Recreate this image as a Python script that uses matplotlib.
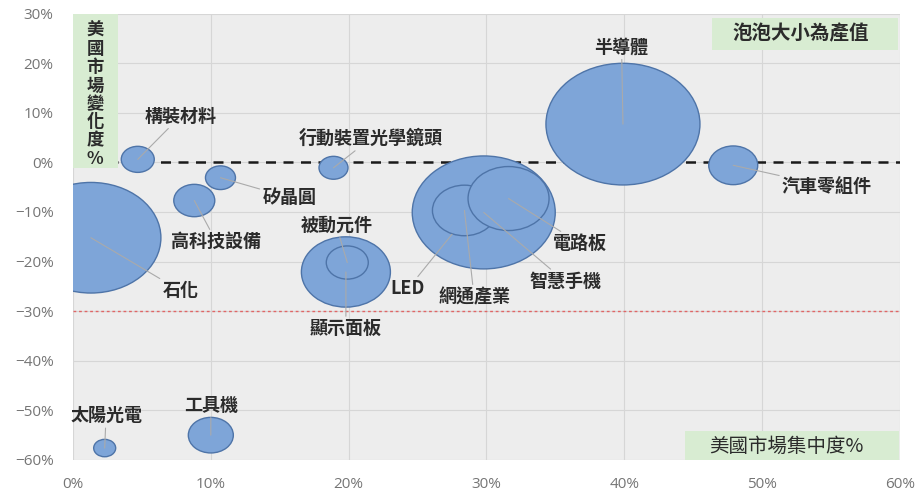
import numpy as np
import matplotlib
matplotlib.use('Agg')
import matplotlib.pyplot as plt
from matplotlib.path import Path
from matplotlib.patches import Rectangle
from matplotlib.transforms import Affine2D
from matplotlib.ticker import PercentFormatter

plt.rcParams['font.family'] = ['Noto Sans CJK TC', 'DejaVu Sans']

# 產業資料 (依繪製順序, 大泡泡先畫)
names = ['LED', '石化', '半導體', '智慧手機', '顯示面板', '網通產業', '電路板',
         '汽車零組件', '工具機', '被動元件', '高科技設備', '構裝材料', '矽晶圓',
         '行動裝置光學鏡頭', '太陽光電']
conc = [27.5, 1.3, 39.9, 29.8, 19.8, 28.4, 31.6, 47.9, 10.0, 19.9, 8.8, 4.7, 10.7, 18.9, 2.3]
change = [-14.5, -15.2, 7.7, -10.1, -22.1, -9.7, -7.3, -0.6, -55.0, -20.2, -7.7, 0.6, -3.1, -1.1, -57.6]
size = [16, 140, 154, 143, 89, 64, 81, 49, 45, 42, 41, 33, 30, 29, 22]

# 標籤位置
lab_x = [24.3, 7.8, 39.8, 35.7, 19.8, 29.1, 36.8, 54.7, 10.0, 19.1, 10.4, 7.8, 15.7, 21.6, 2.4]
lab_y = [-25.5, -25.9, 23.2, -24.0, -33.5, -27.1, -16.4, -4.8, -49.0, -12.7, -16.0, 9.3, -7.1, 4.8, -51.1]

xticks = [0, 10, 20, 30, 40, 50, 60]
yticks = [30, 20, 10, 0, -10, -20, -30, -40, -50, -60]

fig = plt.figure(figsize=(9.18, 4.93), dpi=100)
ax = fig.add_axes([0.0795, 0.067, 0.9009, 0.9056])
ax.set_facecolor('#ededed')
ax.set_xlim(0, 60)
ax.set_ylim(-60, 30)
ax.set_xticks(xticks)
ax.set_yticks(yticks)
ax.xaxis.set_major_formatter(PercentFormatter(decimals=0))
ax.yaxis.set_major_formatter(PercentFormatter(decimals=0))
ax.grid(True, color='#d6d6d6', lw=0.8)
ax.set_axisbelow(True)
for s in ax.spines.values():
    s.set_visible(False)
ax.tick_params(length=0, labelsize=11, labelcolor='#757575')
ax.tick_params(axis='y', pad=14)
ax.tick_params(axis='x', pad=12)
for t in ax.get_xticklabels() + ax.get_yticklabels():
    t.set_family(['Open Sans', 'DejaVu Sans'])

# 參考線
ax.axhline(0, color='#1a1a1a', lw=1.8, ls=(0, (4, 3)), zorder=1)
ax.axhline(-30, color='#e06666', lw=1.0, ls=(0, (2, 2)), zorder=1)

# 橢圓泡泡
ell = Path.unit_circle().transformed(Affine2D().scale(1, 0.79))
s = (np.array(size) * 72 / 100.0) ** 2
ax.scatter(conc, change, s=s, marker=ell, c='#7ea5d8', edgecolors='#4e74a8',
           linewidths=1.0, zorder=3)

for i in range(len(names)):
    ax.annotate(names[i], xy=(conc[i], change[i]), xytext=(lab_x[i], lab_y[i]),
                ha='center', va='center', fontsize=13, fontweight='bold', color='#2b2b2b',
                arrowprops=dict(arrowstyle='-', color='#aaaaaa', lw=0.8, shrinkA=0, shrinkB=0),
                zorder=5)

# 說明框
green = '#d8ecd2'
ax.add_patch(Rectangle((0.773, 0.918), 0.225, 0.072, transform=ax.transAxes,
                       fc=green, ec='none', zorder=6))
ax.text(0.880, 0.955, '泡泡大小為產值', transform=ax.transAxes, ha='center', va='center',
        fontsize=14, fontweight='bold', color='#2b2b2b', zorder=7)

ax.add_patch(Rectangle((0.0, 0.653), 0.054, 0.347, transform=ax.transAxes,
                       fc=green, ec='none', zorder=6))
ax.text(0.027, 0.818, '\n'.join('美國市場變化度%'), transform=ax.transAxes, ha='center', va='center',
        fontsize=12.5, fontweight='bold', color='#2b2b2b', linespacing=1.02, zorder=7)

ax.add_patch(Rectangle((0.74, 0.0), 0.259, 0.064, transform=ax.transAxes,
                       fc=green, ec='none', zorder=6))
ax.text(0.862, 0.03, '美國市場集中度%', transform=ax.transAxes, ha='center', va='center',
        fontsize=14, color='#2b2b2b', zorder=7)

fig.savefig('out.png', dpi=100)
